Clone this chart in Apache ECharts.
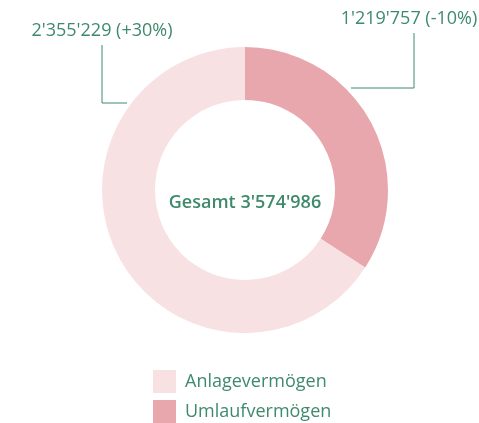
<!DOCTYPE html>
<html>
<head>
<meta charset="utf-8">
<script src="https://cdn.jsdelivr.net/npm/echarts@6/dist/echarts.min.js"></script>
<style>
  html, body { margin: 0; padding: 0; background: #fff; }
  #chart { width: 479px; height: 423px; }
</style>
</head>
<body>
<div id="chart"></div>
<script>
const names = ['Umlaufvermögen', 'Anlagevermögen']
const values = [1219757, 2355229]
const changes = ['-10%', '+30%']
const colors = ['#e8a7ac', '#f8e1e3']
const legendOrder = ['Anlagevermögen', 'Umlaufvermögen']

const green = '#3f8a6d'
const font = 'Open Sans'

function fmt(n) {
  return String(n).replace(/\B(?=(\d{3})+(?!\d))/g, "'")
}

const total = values.reduce((a, b) => a + b, 0)

// label anchor and leader line per slice (index matches names)
const labelPos = [
  { x: 409, y: 19, line: [[351, 88], [414, 88], [414, 33]] },
  { x: 102, y: 31, line: [[127, 103], [102, 103], [102, 45]] }
]

function legendAt(name, top) {
  return {
    data: [name],
    orient: 'vertical',
    left: 153,
    top: top,
    itemWidth: 23,
    itemHeight: 23,
    icon: 'rect',
    selectedMode: false,
    padding: 0,
    textStyle: { fontFamily: font, fontSize: 18, color: green, padding: [0, 0, 0, 4] }
  }
}

const chart = echarts.init(document.getElementById('chart'))
chart.setOption({
  animation: false,
  title: {
    text: 'Gesamt ' + fmt(total),
    left: 240,
    top: 189,
    textAlign: 'center',
    textStyle: { fontFamily: font, fontSize: 18, fontWeight: 600, color: green }
  },
  legend: legendOrder.map((n, i) => legendAt(n, 370 + i * 30)),
  series: [{
    type: 'pie',
    center: [245, 190],
    radius: [90, 143],
    startAngle: 90,
    clockwise: true,
    emphasis: { disabled: true },
    data: names.map((n, i) => ({
      name: n,
      value: values[i],
      itemStyle: { color: colors[i] }
    })),
    label: {
      show: true,
      formatter: p => fmt(p.value) + ' (' + changes[p.dataIndex] + ')',
      fontFamily: font,
      fontSize: 18,
      color: green,
      overflow: 'none',
      width: 220
    },
    labelLine: {
      show: true,
      lineStyle: { color: green, width: 1 }
    },
    labelLayout: p => {
      const lp = labelPos[p.dataIndex]
      return {
        x: lp.x,
        y: lp.y,
        align: 'center',
        verticalAlign: 'middle',
        labelLinePoints: lp.line
      }
    }
  }]
})
</script>
</body>
</html>
